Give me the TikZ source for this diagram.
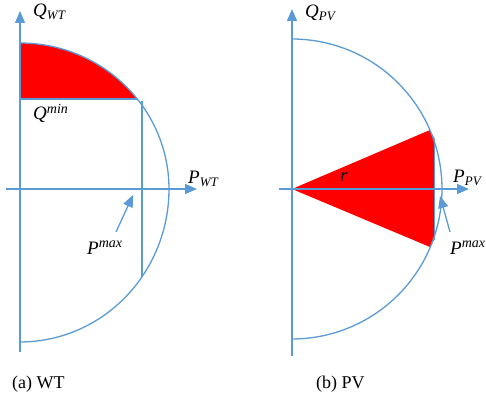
\documentclass[tikz,border=0pt]{standalone}
\usepackage{fontspec}
\setmainfont{Liberation Serif}
\usetikzlibrary{arrows.meta}
\definecolor{axblue}{RGB}{91,155,213}
\newcommand{\mysub}[1]{\raisebox{-3pt}{\fontsize{13}{13}\selectfont #1}}
\newcommand{\mysup}[1]{\raisebox{6.5pt}{\fontsize{14}{14}\selectfont #1}}
\begin{document}
\begin{tikzpicture}[x=1pt,y=-1pt,
  ln/.style={draw=axblue,line width=1.3pt},
  axarrow/.style={ln,-{Triangle[length=12pt,width=10pt]}},
  ptr/.style={ln,-{Triangle[length=12pt,width=10pt]}},
  lbl/.style={font=\fontsize{19}{19}\selectfont\itshape,inner sep=0pt,anchor=base west},
  captxt/.style={font=\fontsize{18}{18}\selectfont,inner sep=0pt,anchor=base west}]
\useasboundingbox (0,0) rectangle (486,411);
% ---------- (a) WT ----------
\fill[red] (20,99) -- plot[domain=38:90,samples=40] ({20+149*cos(\x)},{189-146*sin(\x)}) -- cycle;
\draw[ln] plot[domain=0:90,samples=60] ({20+149*cos(\x)},{189-146*sin(\x)});
\draw[ln] plot[domain=0:90,samples=60] ({20+149*cos(\x)},{189+153*sin(\x)});
\draw[ln] (20,99) -- (137,99);
\draw[ln] (142,101) -- (142,277);
\coordinate (wtb) at (20,352);
\coordinate (wtt) at (20,11);
\coordinate (wtl) at (6,189);
\coordinate (wtr) at (197,189);
\draw[axarrow] (wtb) -- (wtt);
\draw[axarrow] (wtl) -- (wtr);
\node[lbl] (qwt) at (33,17) {Q\mysub{WT}};
\node[lbl] (pwt) at (188,184) {P\mysub{WT}};
\node[lbl] (qmin) at (33,120) {Q\mysup{min}};
\node[lbl] (pmaxa) at (87,254) {P\mysup{max}};
\coordinate (pa0) at (116,232);
\coordinate (pa1) at (133,195);
\draw[ptr] (pa0) -- (pa1);
% ---------- (b) PV ----------
\fill[red] (292,189) -- (430,130) -- (434,138) -- (434,240) -- (430,247) -- cycle;
\draw[axblue,line width=0.8pt] (434,138) -- (434,240);
\draw[ln] plot[domain=-90:90,samples=100] ({292+150*cos(\x)},{189-150*sin(\x)});
\coordinate (pvb) at (292,356);
\coordinate (pvt) at (292,9);
\coordinate (pvl) at (279,189);
\coordinate (pvr) at (469,189);
\draw[axarrow] (pvb) -- (pvt);
\draw[axarrow] (pvl) -- (pvr);
\node[lbl] (qpv) at (305,18) {Q\mysub{PV}};
\node[lbl] (ppv) at (453,183) {P\mysub{PV}};
\node[lbl] (r) at (340,182) {r};
\node[lbl] (pmaxb) at (450,254) {P\mysup{max}};
\coordinate (pb0) at (450,232);
\coordinate (pb1) at (440,196);
\draw[ptr] (pb0) -- (pb1);
% captions
\node[captxt] (capa) at (12,388) {(a) WT};
\node[captxt] (capb) at (316,388) {(b) PV};
\end{tikzpicture}
\end{document}
